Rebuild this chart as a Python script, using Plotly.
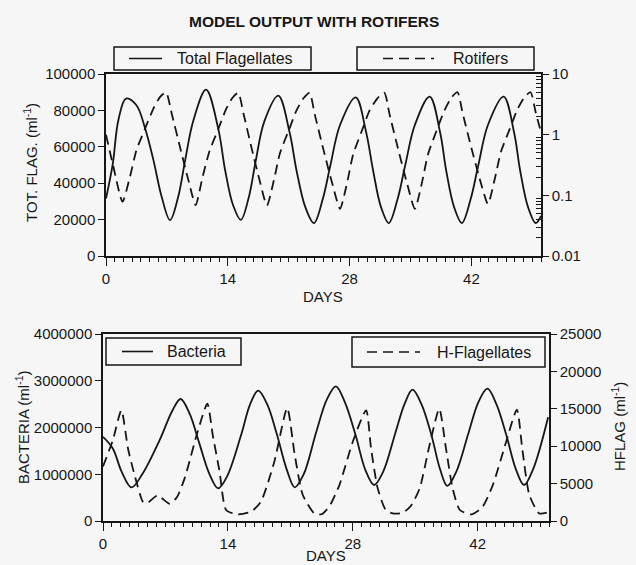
import plotly.graph_objects as go

# ---------------- data ----------------
tf_days = [0, 0.77, 1.42, 2.3, 3.5, 4.5, 5.45, 6.4, 7.36, 8.3, 9.1, 10.05, 11.5, 12.9, 13.7, 14.6,
           15.5, 16.4, 17.2, 18.2, 19.8, 21.1, 21.9, 22.9, 23.9, 24.9, 25.8, 26.9, 28.7, 29.9,
           30.7, 31.6, 32.5, 33.5, 34.4, 35.5, 37.2, 38.4, 39.1, 40.0, 40.9, 41.9, 42.8, 43.9,
           45.7, 46.9, 47.6, 48.5, 49.4, 50]
tf_vals = [31600, 50300, 74600, 86500, 82800, 70000, 52700, 32500, 19700, 32500, 52700, 74600,
           91400, 70000, 47000, 28000, 19900, 32000, 52000, 74000, 88100, 68000, 47000, 27000,
           18100, 31000, 50000, 72000, 87200, 68000, 47000, 27000, 18100, 31000, 50000, 72000,
           87600, 68000, 47000, 27000, 18100, 31000, 50000, 72000, 87600, 68000, 47000, 27000,
           18100, 22000]

rot_days = [0, 0.85, 1.9, 2.76, 3.5, 4.49, 5.45, 6.2, 6.9, 7.55, 8.5, 9.47, 10.3,
            11.1, 11.9, 12.9, 13.8, 14.5, 15.2, 15.8, 16.7, 17.6, 18.5,
            19.3, 20.0, 21.0, 21.9, 22.7, 23.4, 24.0, 25.0, 26.0, 26.9,
            27.7, 28.4, 29.4, 30.3, 31.2, 32.0, 32.6, 33.6, 34.6, 35.5,
            36.3, 37.0, 38.0, 38.9, 39.7, 40.4, 41.0, 42.0, 43.0, 43.9,
            44.7, 45.4, 46.4, 47.3, 48.1, 48.8, 49.4, 50]
rot_vals = [1.0, 0.295, 0.0785, 0.204, 0.556, 1.26, 2.69, 4.17, 5.0, 2.24, 0.63, 0.178, 0.069,
            0.2, 0.537, 1.23, 2.63, 3.98, 4.9, 2.24, 0.63, 0.19, 0.068,
            0.178, 0.5, 1.17, 2.51, 3.98, 4.9, 2.14, 0.562, 0.158, 0.06,
            0.158, 0.468, 1.15, 2.51, 3.98, 4.9, 2.14, 0.562, 0.158, 0.06,
            0.158, 0.468, 1.17, 2.51, 4.07, 5.0, 2.24, 0.603, 0.178, 0.072,
            0.19, 0.525, 1.23, 2.63, 4.17, 5.0, 2.29, 1.1]

bac_days = [0, 1.1, 2.1, 3.2, 4.4, 6.35, 7.8, 8.7, 9.7, 10.8, 11.9, 12.9, 13.9, 15.5, 16.5,
            17.4, 18.4, 19.5, 20.6, 21.5, 22.5, 23.9, 25.1, 26.1, 27.1, 28.3, 29.4, 30.4,
            31.4, 32.8, 33.8, 34.7, 35.7, 36.8, 37.8, 38.6, 39.6, 41.0, 42.1, 43.1, 44.1,
            45.2, 46.3, 47.2, 48.2, 49.9]
bac_vals = [1800000, 1550000, 1050000, 720000, 1000000, 1730000, 2370000, 2610000, 2300000,
            1660000, 1020000, 700000, 950000, 1850000, 2500000, 2790000, 2500000, 1850000,
            1100000, 720000, 1000000, 1900000, 2600000, 2880000, 2550000, 1850000, 1100000,
            770000, 1050000, 1900000, 2500000, 2810000, 2500000, 1850000, 1100000, 750000,
            1050000, 1900000, 2550000, 2830000, 2500000, 1850000, 1100000, 770000, 1100000,
            2220000]

hf_days = [0, 1.1, 2.06, 2.8, 3.55, 4.48, 4.9, 6.1, 7.5, 8.3, 9.15, 10.6, 11.7, 12.3, 13.07,
           13.8, 15.1, 16.6, 17.7, 19.2, 20.65, 21.5, 22.4, 23.7, 24.5, 25.4, 26.5, 28.0,
           29.5, 30.05, 30.8, 31.7, 32.5, 33.6, 34.5, 35.5, 36.6, 37.7, 38.45, 39.2, 40.0,
           41.25, 42.5, 43.7, 45.2, 46.4, 47.0, 47.8, 48.9, 49.9]
hf_vals = [7300, 10800, 14800, 9700, 6100, 2550, 2350, 3400, 2300, 3200, 5700, 11900, 15700,
           11500, 6600, 1470, 880, 1240, 2570, 7900, 15100, 8800, 3470, 1010, 900, 2000, 4800,
           10600, 14800, 9700, 4350, 1470, 1010, 1100, 2000, 4350, 10100, 15000, 9700, 4350,
           1470, 880, 1800, 4800, 10600, 14900, 9700, 3470, 1010, 1150]

x_ticks = [0, 14, 28, 42]
top_left_ticks = [0, 20000, 40000, 60000, 80000, 100000]
top_right_ticks = [0.01, 0.1, 1, 10]
top_right_labels = ["0.01", "0.1", "1", "10"]
bot_left_ticks = [0, 1000000, 2000000, 3000000, 4000000]
bot_right_ticks = [0, 5000, 10000, 15000, 20000, 25000]

# ---------------- styling helpers ----------------
W, H = 636, 565
BG = "#f6f6f6"
INK = "#161616"
FONT = "Liberation Sans, Arial, sans-serif"


def px(x):
    return x / W


def py(y):
    return 1 - y / H


fig = go.Figure()
fig.add_trace(go.Scatter(x=tf_days, y=tf_vals, mode="lines", name="Total Flagellates",
                         line=dict(color=INK, width=1.8, shape="spline", smoothing=1.0),
                         xaxis="x", yaxis="y"))
fig.add_trace(go.Scatter(x=rot_days, y=rot_vals, mode="lines", name="Rotifers",
                         line=dict(color=INK, width=1.8, dash="10px,6px", shape="spline", smoothing=0.6),
                         xaxis="x", yaxis="y2"))
fig.add_trace(go.Scatter(x=bac_days, y=bac_vals, mode="lines", name="Bacteria",
                         line=dict(color=INK, width=1.8, shape="spline", smoothing=1.0),
                         xaxis="x2", yaxis="y3"))
fig.add_trace(go.Scatter(x=hf_days, y=hf_vals, mode="lines", name="H-Flagellates",
                         line=dict(color=INK, width=1.8, dash="10px,6px", shape="spline", smoothing=0.6),
                         xaxis="x2", yaxis="y4"))

tickfont = dict(family=FONT, size=15, color=INK)
common = dict(showline=True, linecolor=INK, linewidth=1.5, showgrid=False, zeroline=False,
              tickcolor=INK, tickwidth=1.3, tickfont=tickfont, ticks="outside", automargin=False)

xdom_top = [px(106), px(541)]
xdom_bot = [px(103), px(549)]
ydom_top = [py(256), py(74)]
ydom_bot = [py(521), py(334)]

fig.update_layout(
    width=W, height=H, autosize=False,
    margin=dict(l=0, r=0, t=0, b=0, pad=0, autoexpand=False),
    paper_bgcolor=BG, plot_bgcolor=BG, showlegend=False,
    font=dict(family=FONT, color=INK),
    xaxis=dict(domain=xdom_top, anchor="y", range=[0, 50], tickvals=x_ticks, ticklen=8,
               mirror=True, minor=dict(dtick=1, ticks="outside", ticklen=4, tickcolor=INK),
               **common),
    yaxis=dict(domain=ydom_top, anchor="x", range=[0, 100000], tickvals=top_left_ticks,
               ticktext=[str(v) for v in top_left_ticks], ticklen=6, **common),
    yaxis2=dict(overlaying="y", side="right", anchor="x", type="log", range=[-2, 1],
                tickvals=top_right_ticks, ticktext=top_right_labels, ticklen=6,
                minor=dict(ticks="inside", ticklen=5, tickcolor=INK,
                           tickvals=[0.02, 0.03, 0.04, 0.05, 0.06, 0.07, 0.08, 0.09,
                                     0.2, 0.3, 0.4, 0.5, 0.6, 0.7, 0.8, 0.9,
                                     2, 3, 4, 5, 6, 7, 8, 9]),
                **common),
    xaxis2=dict(domain=xdom_bot, anchor="y3", range=[0, 50], tickvals=x_ticks, ticklen=8,
                mirror=True, minor=dict(dtick=1, ticks="outside", ticklen=4, tickcolor=INK),
                **common),
    yaxis3=dict(domain=ydom_bot, anchor="x2", range=[0, 4000000], tickvals=bot_left_ticks,
                ticktext=[str(v) for v in bot_left_ticks], ticklen=6, **common),
    yaxis4=dict(overlaying="y3", side="right", anchor="x2", range=[0, 25000],
                tickvals=bot_right_ticks, ticktext=[str(v) for v in bot_right_ticks],
                ticklen=6, **common),
)

# ---------------- titles ----------------
ann = []
def text(x, y, s, size=15, angle=0):
    ann.append(dict(xref="paper", yref="paper", x=px(x), y=py(y), text=s, showarrow=False,
                    xanchor="center", yanchor="middle", textangle=angle,
                    font=dict(family=FONT, size=size, color=INK)))

text(314, 22, "<b>MODEL OUTPUT WITH ROTIFERS</b>", size=15.5)
text(323, 296, "DAYS", size=15)
text(326, 555, "DAYS", size=15)
text(30, 163, "TOT. FLAG. (ml<sup>-1</sup>)", size=15, angle=-90)
text(22, 427, "BACTERIA (ml<sup>-1</sup>)", size=15, angle=-90)
text(618, 427, "HFLAG (ml<sup>-1</sup>)", size=15, angle=-90)

# ---------------- legend boxes ----------------
shapes = []
def legend_box(x0, y0, x1, y1, lx0, lx1, tx, label, dash):
    shapes.append(dict(type="rect", xref="paper", yref="paper", x0=px(x0), x1=px(x1),
                       y0=py(y1), y1=py(y0), line=dict(color=INK, width=1.5), fillcolor=BG,
                       layer="above"))
    ym = (y0 + y1) / 2
    shapes.append(dict(type="line", xref="paper", yref="paper", x0=px(lx0), x1=px(lx1),
                       y0=py(ym), y1=py(ym), line=dict(color=INK, width=1.6, dash=dash),
                       layer="above"))
    ann.append(dict(xref="paper", yref="paper", x=px(tx), y=py(ym), text=label,
                    showarrow=False, xanchor="left", yanchor="middle",
                    font=dict(family=FONT, size=16, color=INK)))

legend_box(114, 47, 311, 70, 129, 162, 175, "Total Flagellates", "solid")
legend_box(357, 47, 534, 70, 383, 434, 451, "Rotifers", "10px,6px")
legend_box(106, 338, 241, 365, 122, 153, 165, "Bacteria", "solid")
legend_box(352, 337, 545, 367, 367, 420, 435, "H-Flagellates", "10px,6px")

fig.update_layout(annotations=ann, shapes=shapes)
fig.write_html("out.html", config={"responsive": False, "displayModeBar": False},
               post_script="document.body.style.margin='0';document.body.style.padding='0';"
                           "document.body.style.overflow='hidden';")
